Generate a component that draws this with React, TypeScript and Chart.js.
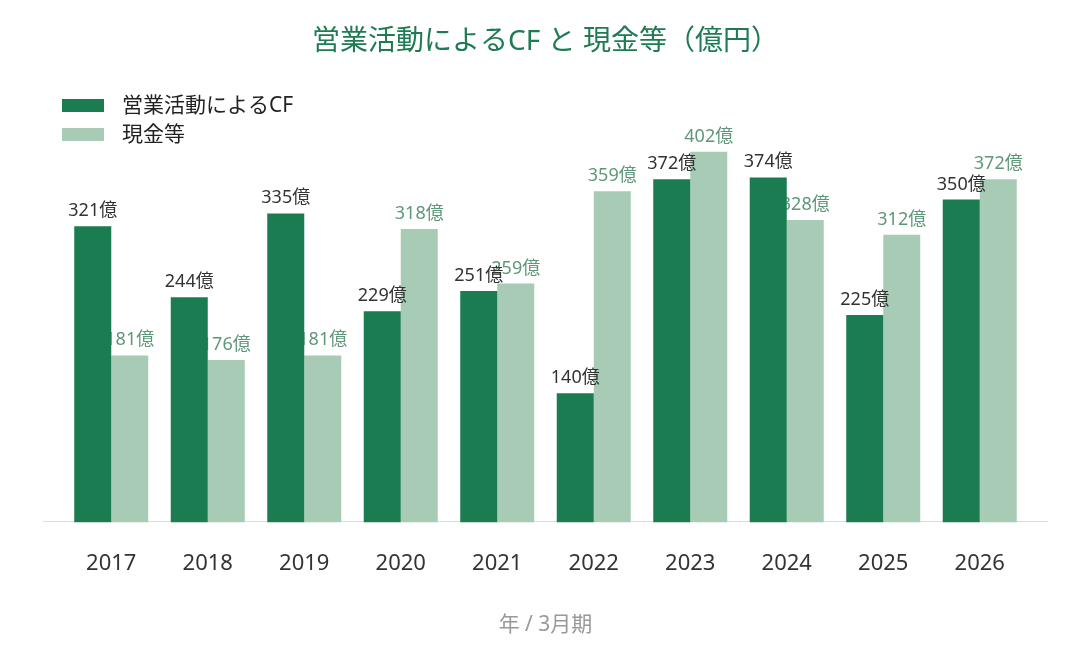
import React, { useEffect, useRef } from "react";
import { Chart, registerables } from "chart.js";

Chart.register(...registerables);

const years = ["2017", "2018", "2019", "2020", "2021", "2022", "2023", "2024", "2025", "2026"];
const operatingCF = [321, 244, 335, 229, 251, 140, 372, 374, 225, 350];
const cashEquivalents = [181, 176, 181, 318, 259, 359, 402, 328, 312, 372];
const seriesNames = ["営業活動によるCF", "現金等"];
const chartTitle = "営業活動によるCF と 現金等（億円）";
const xAxisTitle = "年 / 3月期";
const unitSuffix = "億";

const FONT = "'Noto Sans', 'Noto Sans CJK JP', sans-serif";
const DARK = "#1b7b51";
const LIGHT = "#a8cbb6";
const labelColors = ["#333333", "#5f977a"];

const labelPlugin = {
  id: "barValueLabels",
  afterDatasetDraw(chart: any, args: any) {
    const { ctx } = chart;
    const ds = chart.data.datasets[args.index];
    ctx.save();
    ctx.font = `18px ${FONT}`;
    ctx.textAlign = "center";
    ctx.textBaseline = "alphabetic";
    ctx.fillStyle = labelColors[args.index];
    args.meta.data.forEach((el: any, i: number) => {
      ctx.fillText(`${ds.data[i]}${unitSuffix}`, el.x, el.y - 10);
    });
    ctx.restore();
  },
};

const baselinePlugin = {
  id: "baseline",
  beforeDatasetsDraw(chart: any) {
    const { ctx, scales } = chart;
    const y = Math.round(scales.y.getPixelForValue(0)) - 0.5;
    ctx.save();
    ctx.strokeStyle = "#dddddd";
    ctx.lineWidth = 1;
    ctx.beginPath();
    ctx.moveTo(chart.chartArea.left - 20, y);
    ctx.lineTo(chart.chartArea.right + 20, y);
    ctx.stroke();
    ctx.restore();
  },
};

const legendPlugin = {
  id: "stackedLegend",
  afterDraw(chart: any) {
    const { ctx } = chart;
    ctx.save();
    chart.data.datasets.forEach((ds: any, i: number) => {
      const top = 99 + i * 29;
      ctx.fillStyle = ds.backgroundColor;
      ctx.fillRect(62, top, 42, 13);
      ctx.fillStyle = "#222222";
      ctx.font = `21px ${FONT}`;
      ctx.textAlign = "left";
      ctx.textBaseline = "middle";
      ctx.fillText(ds.label, 122, top + 7);
    });
    ctx.restore();
  },
};

export default function App() {
  const canvasRef = useRef<HTMLCanvasElement | null>(null);

  useEffect(() => {
    document.body.style.margin = "0";
    const canvas = canvasRef.current;
    if (!canvas) return;
    const chart = new Chart(canvas, {
      type: "bar",
      data: {
        labels: years,
        datasets: [
          {
            label: seriesNames[0],
            data: operatingCF,
            backgroundColor: DARK,
            borderWidth: 0,
          },
          {
            label: seriesNames[1],
            data: cashEquivalents,
            backgroundColor: LIGHT,
            borderWidth: 0,
          },
        ],
      },
      options: {
        responsive: false,
        animation: false,
        layout: { padding: { left: 63, right: 52, top: 15, bottom: 0 } },
        datasets: {
          bar: { categoryPercentage: 0.767, barPercentage: 1 },
        },
        plugins: {
          legend: { display: false },
          tooltip: { enabled: false },
          title: {
            display: true,
            text: chartTitle,
            color: "#1e7b52",
            font: { family: FONT, size: 28, weight: "normal" },
            padding: { top: 10, bottom: 58 },
          },
        },
        scales: {
          x: {
            grid: { display: false, drawTicks: false },
            border: { display: false },
            ticks: {
              color: "#333333",
              padding: 28,
              font: { family: FONT, size: 22 },
            },
            title: {
              display: true,
              text: xAxisTitle,
              color: "#999999",
              font: { family: FONT, size: 21 },
              padding: { top: 8, bottom: 7 },
            },
          },
          y: {
            display: false,
            min: 0,
            max: 440,
          },
        },
      },
      plugins: [baselinePlugin, labelPlugin, legendPlugin],
    });
    return () => chart.destroy();
  }, []);

  return (
    <div style={{ width: 1080, height: 645 }}>
      <canvas ref={canvasRef} width={1080} height={645} style={{ display: "block" }} />
    </div>
  );
}
